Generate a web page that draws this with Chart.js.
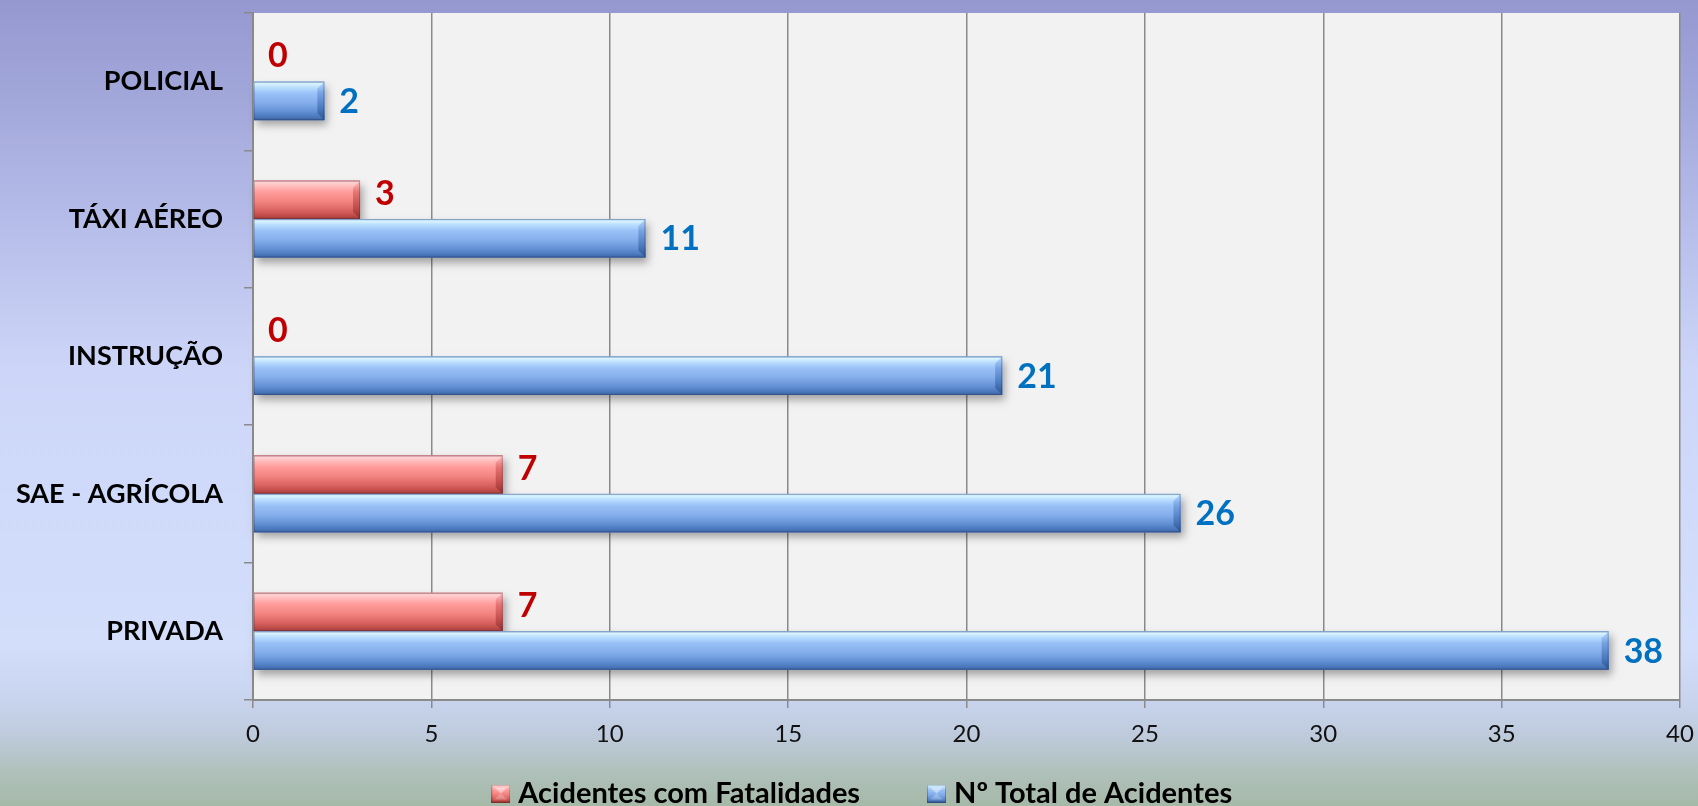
<!DOCTYPE html>
<html><head><meta charset="utf-8">
<script src="https://cdn.jsdelivr.net/npm/chart.js@4.4.1/dist/chart.umd.min.js"></script>
<style>html,body{margin:0;padding:0;background:#fff;overflow:hidden}canvas{display:block}</style>
</head><body>
<canvas id="c" width="1698" height="806"></canvas>
<script>
// ---- data ----
const categories = ['POLICIAL', 'TÁXI AÉREO', 'INSTRUÇÃO', 'SAE - AGRÍCOLA', 'PRIVADA'];
const seriesNames = ['Acidentes com Fatalidades', 'Nº Total de Acidentes'];
const fatalities = [0, 3, 0, 7, 7];
const totals = [2, 11, 21, 26, 38];
const xTicks = [0, 5, 10, 15, 20, 25, 30, 35, 40];

// ---- styles ----
const FONT = 'Lato, "Open Sans", sans-serif';
const styleRed = {
  solid: '#e57370', label: '#c00000',
  stops: [[0,'#f0a4a4'],[0.05,'#ffd2d2'],[0.14,'#ffbdbd'],[0.3,'#ff9c9a'],[0.55,'#f2837f'],[0.78,'#d9625f'],[0.92,'#bf4b48'],[1,'#9e3a38']],
  endStops: [[0,'#ffc4c4'],[0.3,'#e67472'],[0.7,'#c24d4a'],[1,'#8f3230']]
};
const styleBlue = {
  solid: '#7ea9e8', label: '#0070c0',
  stops: [[0,'#a6ccf3'],[0.05,'#daf5ff'],[0.14,'#bde0ff'],[0.3,'#9ac2f8'],[0.55,'#84aeeb'],[0.78,'#6290d4'],[0.92,'#4a77bc'],[1,'#3a609c']],
  endStops: [[0,'#bcdcff'],[0.3,'#78a2e2'],[0.7,'#4a79bd'],[1,'#30558c']]
};
const seriesStyles = [styleRed, styleBlue];

function makeIcon(st) {
  const cv = document.createElement('canvas');
  const w = 19, h = 18; cv.width = w; cv.height = h;
  const c = cv.getContext('2d');
  const g = c.createLinearGradient(0, 0, 0, h);
  st.stops.forEach(s => g.addColorStop(s[0], s[1]));
  c.fillStyle = g; c.fillRect(0, 0, w, h);
  c.fillStyle = 'rgba(255,255,255,0.45)';
  c.beginPath(); c.moveTo(3, 3); c.lineTo(w - 3, 3); c.lineTo(w / 2, h / 2); c.closePath(); c.fill();
  c.fillStyle = 'rgba(255,255,255,0.25)';
  c.beginPath(); c.moveTo(3, h - 3); c.lineTo(w - 3, h - 3); c.lineTo(w / 2, h / 2); c.closePath(); c.fill();
  c.strokeStyle = 'rgba(0,0,0,0.25)'; c.lineWidth = 1; c.strokeRect(0.5, 0.5, w - 1, h - 1);
  return cv;
}
const icons = seriesStyles.map(makeIcon);

function drawBevelBar(ctx, l, t, r, b, st) {
  const w = r - l, h = b - t;
  if (w < 1) return;
  ctx.save();
  ctx.shadowColor = 'rgba(0,0,0,0.33)';
  ctx.shadowBlur = 8; ctx.shadowOffsetX = 3; ctx.shadowOffsetY = 5;
  ctx.fillStyle = st.solid; ctx.fillRect(l, t, w, h);
  ctx.restore();
  const g = ctx.createLinearGradient(0, t, 0, b);
  st.stops.forEach(s => g.addColorStop(s[0], s[1]));
  ctx.fillStyle = g; ctx.fillRect(l, t, w, h);
  const bv = Math.min(7, w / 2);
  const ge = ctx.createLinearGradient(0, t, 0, b);
  st.endStops.forEach(s => ge.addColorStop(s[0], s[1]));
  ctx.fillStyle = ge;
  ctx.beginPath(); ctx.moveTo(r - bv, t + bv); ctx.lineTo(r, t); ctx.lineTo(r, b); ctx.lineTo(r - bv, b - bv); ctx.closePath(); ctx.fill();
  ctx.strokeStyle = 'rgba(30,40,80,0.3)'; ctx.lineWidth = 1;
  ctx.strokeRect(l + 0.5, t + 0.5, w - 1, h - 1);
}

const backgroundPlugin = {
  id: 'bg',
  beforeDraw(chart) {
    const {ctx, width, height, chartArea: a} = chart;
    const g = ctx.createLinearGradient(0, 0, 0, height);
    [[0,'#9598cf'],[0.12,'#a2a7da'],[0.3,'#b9c0eb'],[0.46,'#cdd6f8'],[0.8,'#d3defb'],[0.865,'#c9d5ef'],[0.91,'#bfcbdd'],[0.96,'#afc0ba'],[1,'#a5b9a7']]
      .forEach(s => g.addColorStop(s[0], s[1]));
    ctx.save();
    ctx.fillStyle = g; ctx.fillRect(0, 0, width, height);
    ctx.fillStyle = '#f2f2f2'; ctx.fillRect(a.left, a.top, a.right - a.left, a.bottom - a.top);
    ctx.restore();
  }
};

const legendShiftPlugin = {
  id: 'legendShift',
  afterLayout(chart) {
    if (chart.legend) { chart.legend.left += 25; chart.legend.right += 25; }
  }
};

const barsAndLabelsPlugin = {
  id: 'barsLabels',
  afterDatasetsDraw(chart) {
    const ctx = chart.ctx;
    const metas = chart.data.datasets.map((ds, di) => chart.getDatasetMeta(di));
    metas.forEach((meta, di) => {
      meta.data.forEach(el => {
        const p = el.getProps(['x', 'y', 'base', 'height'], true);
        drawBevelBar(ctx, Math.min(p.base, p.x), p.y - p.height / 2, Math.max(p.base, p.x), p.y + p.height / 2, seriesStyles[di]);
      });
    });
    ctx.save();
    ctx.font = 'bold 34px ' + FONT;
    ctx.textAlign = 'left'; ctx.textBaseline = 'middle';
    metas.forEach((meta, di) => {
      const ds = chart.data.datasets[di];
      ctx.fillStyle = seriesStyles[di].label;
      meta.data.forEach((el, i) => {
        const p = el.getProps(['x', 'y'], true);
        const dy = di === 0 ? -6 : 1;
        ctx.fillText(String(ds.data[i]), p.x + 15, p.y + dy);
      });
    });
    ctx.restore();
  }
};

new Chart(document.getElementById('c'), {
  type: 'bar',
  data: {
    labels: categories,
    datasets: [
      {label: seriesNames[0], data: fatalities, backgroundColor: styleRed.solid, borderWidth: 0},
      {label: seriesNames[1], data: totals, backgroundColor: styleBlue.solid, borderWidth: 0}
    ]
  },
  options: {
    indexAxis: 'y',
    responsive: false,
    animation: false,
    events: [],
    categoryPercentage: 0.56,
    barPercentage: 1.0,
    layout: {padding: {top: 13, right: 18, left: 0, bottom: 0}},
    scales: {
      x: {
        min: xTicks[0], max: xTicks[xTicks.length - 1],
        ticks: {stepSize: xTicks[1] - xTicks[0], font: {family: FONT, size: 24}, color: '#111', padding: 12},
        grid: {color: '#8a8a8a', lineWidth: 1.5, tickLength: 8},
        border: {color: '#8a8a8a', width: 2},
        afterFit(s) { s.height = 69; s.paddingLeft = 0; s.paddingRight = 0; }
      },
      y: {
        grid: {offset: true, drawOnChartArea: false, drawTicks: true, tickLength: 9, color: '#8a8a8a', lineWidth: 1.5},
        border: {color: '#8a8a8a', width: 2},
        ticks: {font: {family: FONT, size: 27, weight: 'bold'}, color: '#000', padding: 21},
        afterFit(s) { s.width = 253; s.paddingTop = 0; s.paddingBottom = 0; }
      }
    },
    plugins: {
      tooltip: {enabled: false},
      legend: {
        position: 'bottom',
        maxHeight: 37,
        labels: {
          usePointStyle: true,
          pointStyleWidth: 6,
          padding: 10,
          color: '#000',
          font: {family: FONT, size: 29, weight: 'bold'},
          generateLabels(chart) {
            const items = Chart.defaults.plugins.legend.labels.generateLabels(chart);
            items.forEach((it, i) => {
              it.pointStyle = icons[i];
              if (i < items.length - 1) it.text = it.text + ' '.repeat(9);
            });
            return items;
          }
        }
      }
    }
  },
  plugins: [backgroundPlugin, legendShiftPlugin, barsAndLabelsPlugin]
});
</script>
</body></html>
